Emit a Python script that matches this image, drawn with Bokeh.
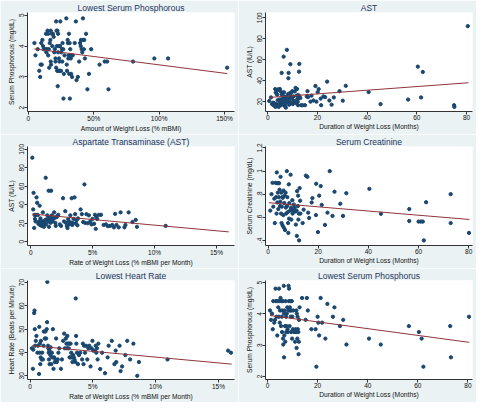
from bokeh.plotting import figure
from bokeh.layouts import gridplot
from bokeh.models import FixedTicker, Range1d
from bokeh.embed import file_html
from bokeh.resources import INLINE

# ---------------- data ----------------
# Panel 1: Lowest Serum Phosphorous vs Amount of Weight Loss (% mBMI)
p1_x = [4.6, 5.4, 7.1, 8.3, 9.3, 10.2, 9.0, 9.8, 10.7, 11.2, 11.7, 12.9, 13.4, 13.7, 14.1, 14.6,
        15.1, 15.1, 15.6, 15.9, 16.3, 16.8, 17.1, 17.1, 17.3, 17.8, 18.3, 18.8, 19.3, 19.8, 20.2,
        20.7, 20.7, 21.2, 21.2, 21.5, 21.7, 22.0, 22.2, 22.4, 22.7, 22.7, 22.9, 23.2, 23.4, 23.7,
        23.9, 24.1, 24.4, 24.9, 25.1, 25.6, 25.9, 26.1, 26.6, 26.8, 27.1, 27.6, 29.0, 29.3, 29.5,
        30.0, 30.2, 30.5, 30.7, 31.0, 31.2, 31.5, 31.7, 32.0, 32.2, 32.4, 32.7, 32.9, 33.4, 33.9,
        35.4, 36.3, 36.8, 37.8, 38.8, 39.5, 40.0, 40.2, 40.7, 41.2, 41.7, 42.0, 42.4, 42.7, 43.2,
        44.1, 45.1, 46.3, 48.0, 54.4, 58.3, 60.2, 61.2, 80.0, 96.3, 106.8, 152.0]
p1_y = [4.1, 3.7, 3.9, 3.2, 3.4, 3.4, 3.0, 4.1, 4.2, 4.0, 3.9, 3.9, 4.4, 3.8, 3.9, 4.5,
        4.4, 3.7, 3.9, 3.3, 4.1, 4.2, 4.5, 3.5, 3.4, 4.4, 4.0, 4.4, 4.3, 3.8, 3.9,
        3.6, 3.5, 4.8, 3.3, 4.5, 4.0, 3.2, 4.5, 2.7, 4.4, 3.8, 3.2, 4.0, 3.6, 3.5,
        3.2, 4.0, 4.8, 3.2, 3.8, 3.9, 3.5, 4.1, 3.9, 2.3, 3.1, 3.7, 4.9, 3.4, 3.2,
        4.2, 4.1, 3.6, 3.7, 4.4, 3.1, 4.1, 2.3, 3.9, 3.7, 3.6, 3.1, 3.7, 3.0, 3.7,
        4.1, 4.8, 2.9, 3.0, 3.5, 4.1, 4.0, 4.2, 3.9, 3.8, 4.9, 4.2, 3.9, 4.2, 3.6,
        4.4, 2.6, 3.1, 3.9, 3.4, 3.5, 3.5, 2.6, 3.5, 3.6, 3.6, 3.3]
p1_fit_x = [4.6, 152.0]
p1_fit_y = [3.91, 3.11]

# Panel 2: AST vs Duration of Weight Loss (Months)
p2_x = [0.6, 1.3, 1.7, 2.1, 2.3, 2.6, 3.0, 3.1, 3.2, 3.4, 3.6, 3.8, 3.9, 4.0, 4.2, 4.4, 4.5,
        4.7, 4.8, 4.9, 5.2, 5.3, 5.4, 5.6, 5.6, 5.7, 6.0, 6.1, 6.2, 6.4, 6.5, 6.6, 6.7, 6.9,
        7.0, 7.3, 7.4, 7.5, 7.7, 7.8, 7.9, 8.0, 8.2, 8.3, 8.4, 8.6, 8.7, 8.8, 8.9, 9.1, 9.2,
        9.3, 9.5, 9.7, 9.9, 10.1, 10.4, 10.6, 10.9, 11.2, 11.4, 11.7, 11.8, 11.9, 12.1, 12.2,
        12.3, 12.5, 12.6, 12.7, 12.8, 13.1, 13.5, 14.0, 15.0, 15.7, 16.0, 16.2, 17.2, 17.6,
        18.4, 19.2, 19.6, 20.1, 20.5, 21.3, 21.5, 22.4, 23.1, 23.9, 24.8, 25.7, 26.6, 28.9,
        30.2, 31.4, 40.6, 45.4, 56.5, 60.4, 61.7, 62.4, 75.0, 75.1, 80.5]
p2_y = [20.6, 24, 17.7, 19, 16.6, 18.6, 32, 15, 28.6, 17.7, 30, 26.6, 16.6, 21.4, 31.7, 15, 16.6,
        22, 18.6, 32, 29.7, 20.3, 16.6, 47.4, 26.9, 22.6, 18.6, 28.6, 17.7, 62.9, 25, 28.9, 20.6, 15.7,
        23, 14.3, 18.6, 24.9, 69.4, 21.4, 22.9, 20, 27.1, 42.3, 47.4, 17.1, 23.7, 28, 20, 55.7, 25.7,
        18.6, 28.6, 22.9, 30, 17.7, 25, 20.6, 29.7, 33.1, 18.6, 25.7, 32, 22.3, 20, 16.6,
        26.3, 24.6, 48.6, 56, 25, 23.4, 16.6, 16.6, 16.6, 25, 30, 24.3, 20, 25.7,
        21.1, 34.9, 20, 29.1, 32, 22.9, 16.6, 25, 24.3, 39.1, 21.1, 17.1, 24, 30,
        20.9, 35.1, 29.1, 17.7, 22, 53.4, 24, 48.3, 16.6, 15, 92]
p2_fit_x = [0.6, 80.8]
p2_fit_y = [24.0, 38.0]

# Panel 3: AST vs Rate of Weight Loss (% mBMI per Month)
p3_x = [0.13, 0.2, 0.23, 0.28, 0.31, 0.34, 0.39, 0.41, 0.47, 0.52, 0.57, 0.62, 0.67, 0.72, 0.75,
        0.78, 0.83, 0.88, 0.93, 0.98, 1.0, 1.06, 1.11, 1.16, 1.21, 1.24, 1.29, 1.34, 1.4, 1.45,
        1.47, 1.5, 1.55, 1.6, 1.65, 1.68, 1.71, 1.76, 1.81, 1.89, 1.94, 1.99, 2.02, 2.09, 2.14,
        2.22, 2.35, 2.45, 2.61, 2.69, 2.79, 2.84, 2.92, 2.97, 3.02, 3.07, 3.13, 3.2, 3.26, 3.31,
        3.36, 3.41, 3.46, 3.54, 3.59, 3.64, 3.7, 3.77, 3.82, 4.03, 4.13, 4.24, 4.34, 4.39, 4.5,
        4.6, 4.7, 4.81, 4.91, 4.99, 5.12, 5.19, 5.25, 5.3, 5.37, 5.5, 5.68, 5.89, 6.07, 6.23,
        6.41, 6.59, 6.72, 6.82, 6.93, 7.11, 7.26, 7.57, 7.65, 7.91, 8.22, 8.48, 8.58, 10.9]
p3_y = [90.9, 35, 52.9, 15, 29, 24.7, 22, 29, 48, 42.2, 29, 19.5, 22, 39, 18.2,
        25.3, 23, 17.2, 21.4, 31.8, 19.5, 16.2, 21.4, 23.4, 69.2, 18.8, 24.4, 28.6, 22, 55.2,
        16.2, 26.9, 23.7, 20.5, 55.2, 24.7, 28.6, 22, 24.7, 31.8, 26, 20.5, 17.2, 26.6, 27.9,
        29.2, 18.8, 17.2, 47.1, 22, 33.1, 20.5, 17.2, 14.9, 24.4, 22, 18.8, 28.6, 20.8, 47.1,
        18.2, 20.1, 24.7, 48, 29.9, 20.1, 23.4, 17.9, 25.3, 35, 29.9, 21.4, 62, 20.5, 29.9,
        20.1, 28.6, 22, 18.8, 24.7, 19.5, 29.2, 14, 26.9, 24.7, 29.2, 29.2, 18.2, 18.8, 16.9,
        17.2, 18.2, 15.6, 30.2, 18.2, 15.6, 31.8, 15.6, 18.2, 31.8, 21.4, 23.7, 16.2, 17.2]
p3_fit_x = [0.13, 16.0]
p3_fit_y = [30.0, 10.7]

# Panel 4: Serum Creatinine vs Duration of Weight Loss (Months)
p4_x = [0.9, 1.4, 1.8, 2.1, 2.5, 2.7, 3.0, 3.2, 3.4, 3.5, 3.6, 3.7, 3.9, 4.0, 4.1, 4.3, 4.4,
        4.6, 4.8, 4.9, 5.0, 5.2, 5.3, 5.4, 5.5, 5.7, 5.8, 5.9, 6.1, 6.2, 6.3, 6.5, 6.6, 6.8,
        7.0, 7.1, 7.2, 7.5, 7.6, 7.7, 7.9, 8.0, 8.1, 8.3, 8.4, 8.5, 8.8, 9.0, 9.2, 9.3, 9.4,
        9.7, 9.8, 10.1, 10.3, 10.6, 10.8, 11.1, 11.4, 11.5, 11.6, 11.9, 12.0, 12.1, 12.3, 12.4,
        12.6, 12.8, 12.9, 13.8, 14.2, 15.1, 15.7, 16.0, 16.4, 17.7, 17.4, 19.1, 19.2, 19.9,
        20.4, 21.0, 21.4, 22.7, 23.7, 24.6, 25.7, 26.5, 28.8, 29.9, 31.2, 40.4, 45.0, 56.3,
        56.3, 60.0, 60.9, 61.7, 62.1, 63.0, 72.8, 72.8, 80.1]
p4_y = [0.658, 0.8, 0.898, 0.692, 0.761, 0.55, 0.898, 0.774, 0.632, 0.988, 0.895, 0.728, 0.813,
        0.895, 0.671, 0.774, 0.895, 0.839, 0.697, 0.736, 0.95, 0.632, 0.813, 0.55, 0.692, 0.774,
        0.529, 0.769, 0.619, 0.831, 0.511, 0.723, 0.787, 0.49, 0.813, 0.684, 0.632, 0.999, 0.697,
        0.774, 0.645, 0.55, 0.465, 0.885, 0.588, 0.723, 0.658, 0.968, 0.684, 0.58, 0.671, 0.748,
        0.632, 0.658, 0.71, 0.684, 0.65, 0.537, 0.658, 0.439, 0.826, 0.697, 0.787, 0.58, 0.632,
        0.4, 0.852, 0.743, 0.632, 0.55, 0.666, 0.96, 0.95, 0.64, 0.594, 0.766, 0.728, 0.619,
        0.89, 0.472, 0.787, 0.87, 0.707, 0.534, 0.64, 0.999, 0.612, 0.821, 0.717, 0.612, 0.808,
        0.846, 0.63, 0.671, 0.568, 0.563, 0.563, 0.563, 0.4, 0.73, 0.8, 0.55, 0.465]
p4_fit_x = [0.3, 80.3]
p4_fit_y = [0.726, 0.581]

# Panel 5: Lowest Heart Rate vs Rate of Weight Loss (% mBMI per Month)
p5_x = [0.15, 0.23, 0.26, 0.33, 0.36, 0.38, 0.41, 0.46, 0.51, 0.59, 0.64, 0.72, 0.74, 0.77, 0.79,
        0.82, 0.85, 0.87, 0.92, 0.97, 1.03, 1.08, 1.1, 1.18, 1.23, 1.28, 1.33, 1.36, 1.38, 1.44,
        1.46, 1.49, 1.51, 1.54, 1.56, 1.62, 1.64, 1.69, 1.74, 1.77, 1.82, 1.87, 1.92, 1.97, 2.03,
        2.08, 2.13, 2.21, 2.26, 2.33, 2.46, 2.54, 2.64, 2.72, 2.77, 2.85, 2.9, 2.95, 2.97, 3.03,
        3.08, 3.13, 3.15, 3.21, 3.23, 3.28, 3.33, 3.38, 3.44, 3.49, 3.54, 3.62, 3.64, 3.67, 3.69,
        3.74, 3.82, 3.9, 4.0, 4.15, 4.21, 4.26, 4.31, 4.38, 4.46, 4.56, 4.64, 4.72, 4.82, 4.9,
        4.97, 5.03, 5.15, 5.23, 5.28, 5.33, 5.38, 5.44, 5.59, 5.74, 5.97, 6.18, 6.26, 6.51,
        6.72, 6.82, 6.87, 7.13, 7.21, 7.33, 7.59, 7.74, 7.97, 8.23, 8.54, 8.67, 10.95, 15.77, 16.0]
p5_y = [41.8, 33, 41.2, 56.9, 58, 50, 42.9, 45, 47.1, 39.9, 42.9, 30.8, 51, 39.9, 43.8,
        35, 37.9, 45, 37, 39.9, 37, 42.9, 49, 46, 49, 46, 50, 53, 70.3, 42.9,
        41.8, 39.9, 37, 40.8, 35, 38.9, 42.2, 35, 39.9, 37.9, 50, 33, 37.9, 35.9, 37,
        46, 35.9, 37, 39.9, 41.8, 33, 37, 45, 48.1, 41.8, 46, 43.8, 41.8, 47.1, 43.8,
        41.8, 43.8, 37.9, 37.9, 43.8, 39.9, 37.9, 35.9, 38.9, 37.9, 37, 35.9, 63.2, 47.1, 43.8,
        39.9, 35, 38.9, 39.9, 37, 43.8, 35, 42.9, 39.9, 42.9, 37, 41.8, 42.9, 34, 41.8,
        45, 40.8, 40.8, 42.9, 39.9, 41.8, 37, 43.8, 32.9, 39.9, 31.1, 37.9, 42.9, 45,
        35, 40.8, 35.9, 42.9, 32, 34, 38.9, 45, 37, 43.8, 30, 35.9, 37, 40.8, 39.9]
p5_fit_x = [0.15, 16.05]
p5_fit_y = [42.9, 35.0]

# Panel 6: Lowest Serum Phosphorus vs Duration of Weight Loss (Months)
p6_x = [1.0, 1.4, 1.8, 2.1, 2.3, 2.7, 3.0, 3.2, 3.4, 3.6, 3.9, 4.0, 4.3, 4.5, 4.6, 4.8, 4.9,
        5.0, 5.2, 5.4, 5.5, 5.7, 5.8, 5.9, 6.1, 6.2, 6.3, 6.5, 6.6, 6.6, 6.7, 6.8, 7.0, 7.1,
        7.2, 7.4, 7.5, 7.6, 7.7, 7.9, 8.0, 8.1, 8.3, 8.4, 8.5, 8.6, 8.8, 8.9, 9.0, 9.2, 9.3,
        9.4, 9.5, 9.7, 9.8, 9.9, 10.1, 10.3, 10.6, 11.0, 11.2, 11.4, 11.5, 11.6, 11.7, 11.9,
        12.0, 12.1, 12.3, 12.4, 12.5, 12.6, 12.8, 13.8, 15.2, 15.7, 16.1, 17.5, 19.2, 19.5,
        20.0, 20.3, 20.6, 21.2, 21.8, 23.1, 23.9, 26.1, 26.7, 28.9, 30.2, 31.5, 40.5, 45.2,
        56.4, 60.4, 61.5, 62.2, 72.9, 73.2, 80.4]
p6_y = [4.11, 3.81, 4.01, 3.51, 4.41, 3.72, 3.81, 4.81, 4.41, 3.91, 3.31, 4.41, 4.21, 3.91, 4.81,
        4.41, 3.72, 4.11, 4.51, 3.61, 4.41, 3.91, 3.42, 4.11, 4.41, 3.21, 3.02, 4.9, 2.61, 4.01,
        3.31, 4.11, 3.61, 3.11, 4.41, 3.91, 3.42, 3.61, 4.01, 4.21, 3.51, 3.42, 4.11, 4.9, 4.41,
        4.81, 3.61, 4.21, 4.11, 4.41, 3.91, 3.42, 4.11, 4.41, 3.21, 3.91, 3.51, 4.11, 3.42, 3.11,
        3.51, 3.42, 4.11, 2.91, 4.01, 3.21, 3.91, 3.51, 3.42, 2.71, 3.11, 3.81, 4.21, 4.51, 3.81,
        4.51, 4.11, 3.51, 3.51, 2.31, 3.91, 3.72, 3.31, 4.51, 3.72, 3.21, 4.32, 3.91, 4.21, 3.61,
        3.81, 3.02, 3.21, 3.02, 3.61, 3.42, 3.21, 2.31, 3.61, 2.61, 3.91]
p6_fit_x = [1.0, 80.5]
p6_fit_y = [3.95, 3.09]

# tick labels
pct_ticks_big = [0, 50, 100, 150]
pct_labels_big = ["0", "50%", "100%", "150%"]
pct_ticks_small = [0, 5, 10, 15]
pct_labels_small = ["0", "5%", "10%", "15%"]
month_ticks = [0, 20, 40, 60, 80]
phos_ticks = [2, 3, 4, 5]
ast_ticks2 = [20, 40, 60, 80, 100]
ast_ticks3 = [0, 20, 40, 60, 80, 100]
creat_ticks = [0.4, 0.6, 0.8, 1.0, 1.2]
creat_labels = [".4", ".6", ".8", "1", "1.2"]
hr_ticks = [30, 40, 50, 60, 70]

# ---------------- styling ----------------
BG = "#EAF2F3"
DOT = "#1a476f"
FIT = "#90353b"
FONT = "Liberation Sans"


def panel(title, xs, ys, fx, fy, xr, yr, xt, xl, yt, yl, xlabel, ylabel):
    p = figure(width=238, height=134, output_backend="svg", toolbar_location=None,
               x_range=Range1d(*xr), y_range=Range1d(*yr),
               min_border_left=27, min_border_right=4, min_border_top=12, min_border_bottom=16)
    p.border_fill_color = BG
    p.background_fill_color = "white"
    p.outline_line_color = None
    p.grid.visible = False
    p.title.text = title
    p.title.align = "center"
    p.title.text_font = FONT
    p.title.text_font_size = "8.5px"
    p.title.text_font_style = "normal"
    p.title.text_color = "#1e3560"
    p.title.standoff = 0
    p.title.offset = 0

    p.scatter(xs, ys, size=3.3, color=DOT, line_color=DOT)
    p.line(fx, fy, color=FIT, line_width=1)

    for ax, ticks, labels, lab in ((p.xaxis[0], xt, xl, xlabel), (p.yaxis[0], yt, yl, ylabel)):
        ax.ticker = FixedTicker(ticks=ticks)
        if labels is not None:
            ax.major_label_overrides = {t: s for t, s in zip(ticks, labels)}
        ax.minor_tick_line_color = None
        ax.major_tick_in = 0
        ax.major_tick_out = 3
        ax.axis_line_color = "#333333"
        ax.major_tick_line_color = "#333333"
        ax.major_label_text_font = FONT
        ax.major_label_text_font_size = "6.5px"
        ax.major_label_text_color = "#111111"
        ax.major_label_standoff = 0
        ax.axis_label = lab
        ax.axis_label_text_font = FONT
        ax.axis_label_text_font_size = "6.7px"
        ax.axis_label_text_font_style = "normal"
        ax.axis_label_text_color = "#111111"
        ax.axis_label_standoff = 0
    p.yaxis[0].major_label_orientation = "vertical"
    p.yaxis[0].axis_label_standoff = 2
    return p


f1 = panel("Lowest Serum Phosphorous", p1_x, p1_y, p1_fit_x, p1_fit_y,
           (-0.7, 157.6), (1.88, 5.09), pct_ticks_big, pct_labels_big, phos_ticks, None,
           "Amount of Weight Loss (% mBMI)", "Serum Phosphorous (mg/dL)")
f2 = panel("AST", p2_x, p2_y, p2_fit_x, p2_fit_y,
           (-0.9, 82.4), (10.6, 105.0), month_ticks, None, ast_ticks2, None,
           "Duration of Weight Loss (Months)", "AST (IU/L)")
f3 = panel("Aspartate Transaminase (AST)", p3_x, p3_y, p3_fit_x, p3_fit_y,
           (-0.26, 16.46), (-4.0, 103.0), pct_ticks_small, pct_labels_small, ast_ticks3, None,
           "Rate of Weight Loss (% mBMI per Month)", "AST (IU/L)")
f4 = panel("Serum Creatinine", p4_x, p4_y, p4_fit_x, p4_fit_y,
           (-1.0, 81.5), (0.356, 1.212), month_ticks, None, creat_ticks, creat_labels,
           "Duration of Weight Loss (Months)", "Serum Creatinine (mg/dL)")
f5 = panel("Lowest Heart Rate", p5_x, p5_y, p5_fit_x, p5_fit_y,
           (-0.2, 16.28), (28.4, 70.9), pct_ticks_small, pct_labels_small, hr_ticks, None,
           "Rate of Weight Loss (% mBMI per Month)", "Heart Rate (Beats per Minute)")
f6 = panel("Lowest Serum Phosphorus", p6_x, p6_y, p6_fit_x, p6_fit_y,
           (-0.8, 81.8), (1.9, 5.07), month_ticks, None, phos_ticks, None,
           "Duration of Weight Loss (Months)", "Serum Phosphorous (mg/dL)")

grid = gridplot([[f1, f2], [f3, f4], [f5, f6]], toolbar_location=None)

open("out.html", "w").write(file_html(grid, INLINE))
